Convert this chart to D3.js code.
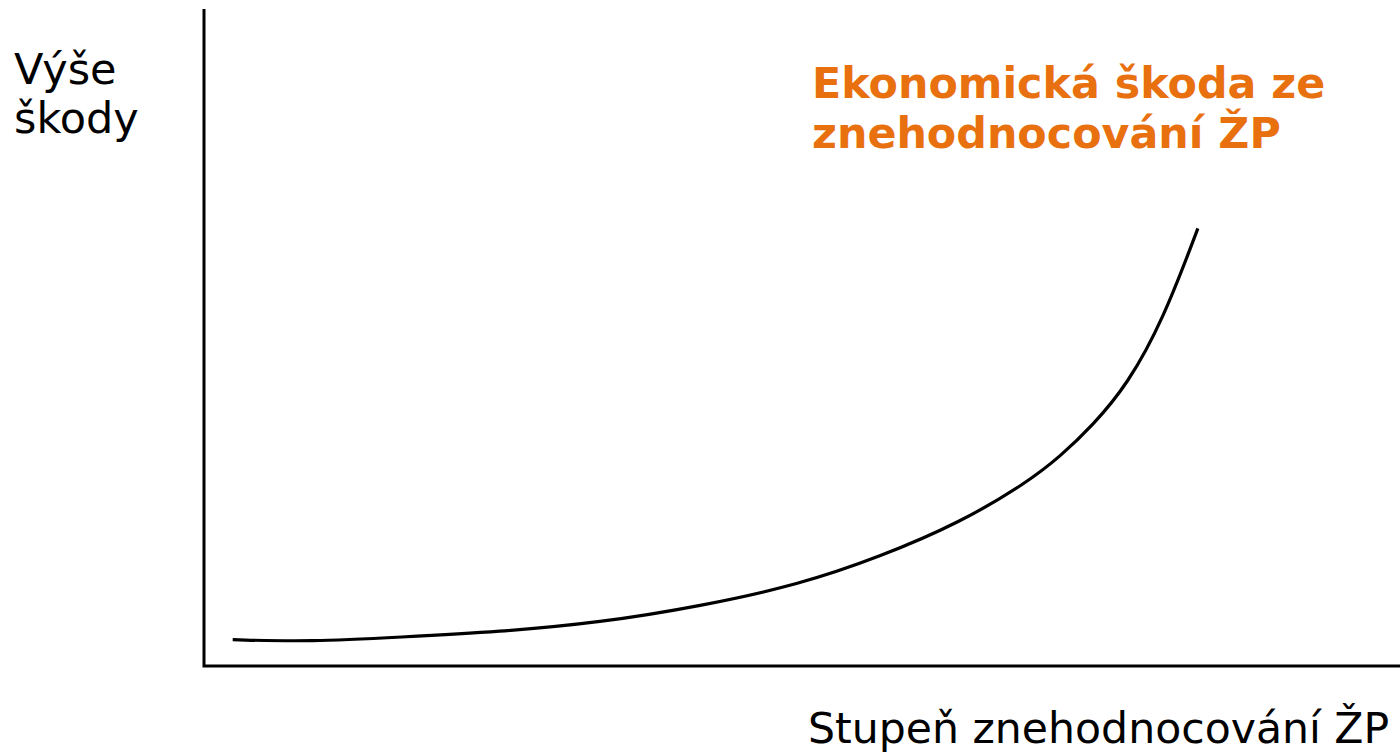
<!DOCTYPE html>
<html>
<head>
	<meta charset="utf-8">
	<title>Ekonomická škoda</title>
	<script src="https://d3js.org/d3.v7.min.js"></script>
	<style>
		body { margin: 0; background: #fff; }
		text { font-family: 'DejaVu Sans', Verdana, sans-serif; }
	</style>
</head>
<body>
<script>
	// curve (arbitrary units, 0..10 on both axes)
	var degree = [0.24, 0.89, 1.64, 2.47, 3.31, 4.15, 4.98, 5.65, 6.32, 6.88, 7.16, 7.43, 7.72, 8.02, 8.31];
	var damage = [0.40, 0.37, 0.44, 0.52, 0.66, 0.91, 1.24, 1.66, 2.18, 2.79, 3.19, 3.66, 4.28, 5.27, 6.66];

	var yLabel = ["Výše", "škody"];
	var xLabel = "Stupeň znehodnocování ŽP";
	var curveLabel = ["Ekonomická škoda ze", "znehodnocování ŽP"];

	var width = 1400, height = 753;
	var margin = {top: 9, right: 0, bottom: 87, left: 204};

	var svg = d3.select("body").append("svg")
			.attr("width", width)
			.attr("height", height);

	var x = d3.scaleLinear().domain([0, 10]).range([margin.left, width - margin.right]);
	var y = d3.scaleLinear().domain([0, 10]).range([height - margin.bottom, margin.top]);

	// axes: plain lines, no ticks
	svg.append("path")
			.attr("d", "M" + x(0) + "," + y(10) + "V" + y(0) + "H" + x(10))
			.attr("fill", "none")
			.attr("stroke", "#000")
			.attr("stroke-width", 3);

	var points = degree.map(function(d, i) { return [d, damage[i]]; });

	var line = d3.line()
			.x(function(d) { return x(d[0]); })
			.y(function(d) { return y(d[1]); })
			.curve(d3.curveBasis);

	svg.append("path")
			.datum(points)
			.attr("d", line)
			.attr("fill", "none")
			.attr("stroke", "#000")
			.attr("stroke-width", 3.2);

	// y label
	svg.append("text")
			.attr("font-size", 43)
			.selectAll("tspan")
			.data(yLabel)
			.enter().append("tspan")
			.attr("x", 14)
			.attr("y", function(d, i) { return 84 + i * 49; })
			.text(function(d) { return d; });

	// curve label
	svg.append("text")
			.attr("fill", "#e8700f")
			.attr("font-weight", "bold")
			.attr("font-size", 42.8)
			.selectAll("tspan")
			.data(curveLabel)
			.enter().append("tspan")
			.attr("x", 812)
			.attr("y", function(d, i) { return 98 + i * 50; })
			.text(function(d) { return d; });

	// x label
	svg.append("text")
			.attr("x", 808)
			.attr("y", 743)
			.attr("font-size", 42.6)
			.text(xLabel);
</script>
</body>
</html>
